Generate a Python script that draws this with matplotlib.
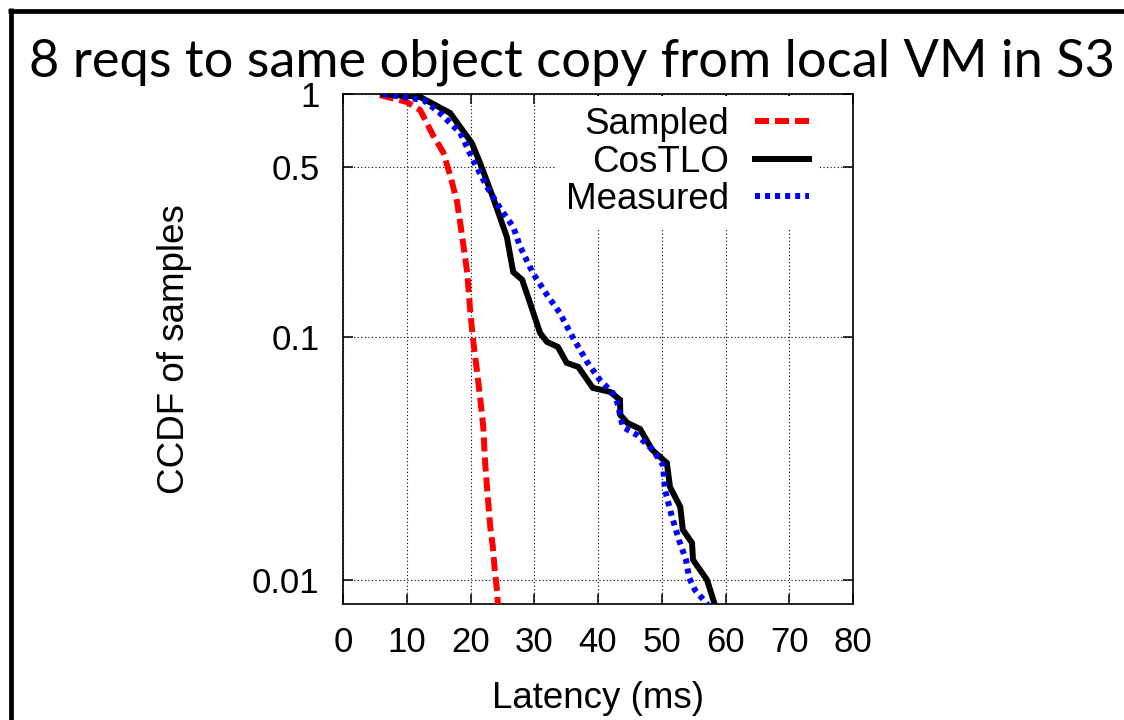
import matplotlib
matplotlib.use("Agg")
import matplotlib.pyplot as plt
from matplotlib.lines import Line2D

# CCDF of request latency (ms) for 8 requests to the same object copy
sampled_x = [5.8, 10.0, 12.1, 14.1, 15.7, 16.8, 17.9, 18.7, 19.5, 19.9, 20.4,
             21.0, 21.5, 22.0, 22.3, 22.6, 23.1, 23.5, 23.8, 24.2, 24.3]
sampled_y = [0.99, 0.927, 0.859, 0.678, 0.577, 0.464, 0.359, 0.258, 0.183, 0.133,
             0.0972, 0.0731, 0.0566, 0.0426, 0.0303, 0.0239, 0.0165, 0.0137,
             0.0110, 0.00885, 0.0078]

costlo_x = [6.3, 12.1, 16.8, 20.2, 21.5, 23.5, 25.7, 26.7, 28.1, 29.3, 30.9,
            32.0, 33.7, 35.1, 36.9, 39.2, 41.9, 43.45, 43.5, 44.6, 46.6, 48.5,
            50.8, 51.3, 52.9, 53.3, 54.75, 54.9, 57.1, 58.4]
costlo_y = [1.0, 0.972, 0.835, 0.629, 0.520, 0.377, 0.258, 0.185, 0.172, 0.139,
            0.104, 0.0954, 0.0910, 0.0782, 0.0753, 0.0617, 0.0594, 0.0551,
            0.0478, 0.0443, 0.0418, 0.0343, 0.0303, 0.0241, 0.0200, 0.0161,
            0.0142, 0.0121, 0.0100, 0.0078]

measured_x = [6.3, 12.6, 15.2, 18.4, 20.4, 22.6, 24.6, 26.7, 27.8, 29.8, 32.0,
              34.0, 36.1, 38.3, 40.3, 42.35, 43.0, 43.9, 46.1, 48.6, 50.2, 50.5,
              51.6, 52.7, 53.8, 54.3, 55.2, 57.4]
measured_y = [1.0, 0.945, 0.835, 0.691, 0.535, 0.414, 0.340, 0.284, 0.235, 0.183,
              0.149, 0.1256, 0.099, 0.0789, 0.0665, 0.0588, 0.054, 0.0426,
              0.0395, 0.0343, 0.0297, 0.0235, 0.0182, 0.0146, 0.0121, 0.0102,
              0.0091, 0.0078]

x_ticks = [0, 10, 20, 30, 40, 50, 60, 70, 80]
y_ticks = [1, 0.5, 0.1, 0.01]
y_tick_labels = ["1", "0.5", "0.1", "0.01"]

W, H = 1124, 720
fig = plt.figure(figsize=(W / 100, H / 100), dpi=100)
fig.patch.set_facecolor("white")

ax = fig.add_axes([343 / W, 1 - 604 / H, (853 - 343) / W, (604 - 94) / H])

lw = 4.3
ax.plot(sampled_x, sampled_y, color="#ff0000", lw=lw,
        linestyle=(0, (2.35, 1.0)), label="Sampled", zorder=3)
ax.plot(costlo_x, costlo_y, color="black", lw=lw, solid_joinstyle="miter",
        label="CosTLO", zorder=4)
ax.plot(measured_x, measured_y, color="#0000ff", lw=lw,
        linestyle=(0, (0.84, 0.84)), label="Measured", zorder=5)

ax.set_yscale("log")
ax.set_xlim(0, 80)
ax.set_ylim(0.00796, 1)
ax.set_xticks(x_ticks)
ax.set_xticklabels([str(v) for v in x_ticks])
ax.set_yticks(y_ticks)
ax.set_yticklabels(y_tick_labels)
ax.yaxis.set_minor_locator(matplotlib.ticker.NullLocator())

tick_font = "Liberation Sans"
for lab in ax.get_xticklabels() + ax.get_yticklabels():
    lab.set_fontfamily(tick_font)
    lab.set_fontsize(25)

ax.tick_params(axis="both", which="major", direction="in", length=7, width=1.1,
               top=True, right=True, color="black")
ax.tick_params(axis="y", pad=17)
ax.tick_params(axis="x", pad=16)

for s in ax.spines.values():
    s.set_linewidth(1.2)
    s.set_color("black")

ax.grid(True, which="major", color="black", linestyle=(0, (1, 2.2)), lw=0.8)
ax.set_axisbelow(True)

ax.set_xlabel("Latency (ms)", fontfamily=tick_font, fontsize=26.5, labelpad=16)
ax.set_ylabel("CCDF of samples", fontfamily=tick_font, fontsize=26.5, labelpad=43)

leg = ax.legend(loc="upper right", bbox_to_anchor=(0.935, 0.996),
                markerfirst=False, frameon=True, fancybox=False,
                framealpha=1, edgecolor="none", facecolor="white",
                prop={"family": tick_font, "size": 26.5},
                handlelength=1.47, handletextpad=0.69, labelspacing=0.07,
                borderpad=0.3, borderaxespad=0.0)
for t in leg.get_texts():
    t.set_ha("right")
leg.set_zorder(6)

fig.text(572 / W, 1 - 77 / H, "8 reqs to same object copy from local VM in S3",
         ha="center", va="baseline", fontsize=37.7, fontfamily="Lato",
         fontweight="normal", color="black")

# page frame along the top and left edges
fig.add_artist(Line2D([8 / W, 1], [1 - 10.5 / H, 1 - 10.5 / H],
                      transform=fig.transFigure, color="black", lw=3.4,
                      solid_capstyle="butt"))
fig.add_artist(Line2D([10.5 / W, 10.5 / W], [0, 1 - 8 / H],
                      transform=fig.transFigure, color="black", lw=3.4,
                      solid_capstyle="butt"))

fig.savefig("out.png", dpi=100, facecolor="white")
